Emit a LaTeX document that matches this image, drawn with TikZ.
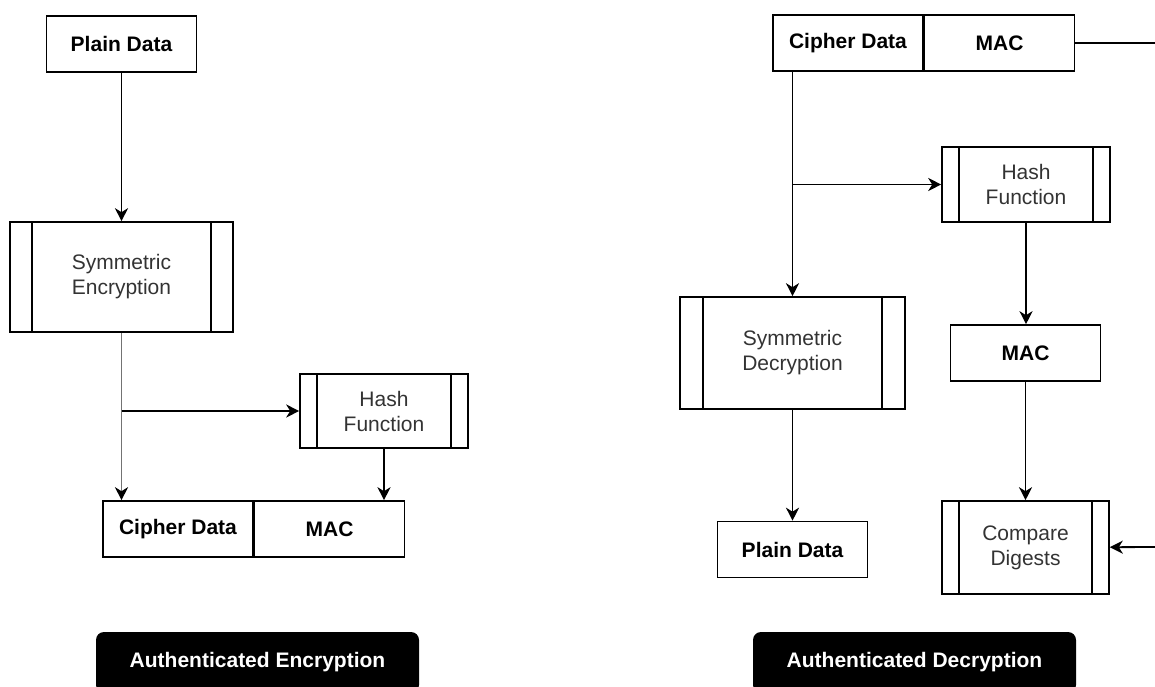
\documentclass[tikz,border=0pt]{standalone}
\usepackage{fontspec}
\setmainfont{Liberation Sans}
\usetikzlibrary{arrows.meta, positioning}

\begin{document}
\begin{tikzpicture}[
    x=1pt, y=-1pt,
    font=\fontsize{21}{25}\selectfont,
    box/.style={draw, line width=1.6pt, minimum height=56pt, minimum width=150pt, align=center, inner sep=0pt},
    data/.style={box, font=\fontsize{21}{25}\selectfont\bfseries},
    process/.style={box, text=black!80, path picture={
        \draw[line width=1.6pt]
            ([xshift=#1]path picture bounding box.north west) -- ([xshift=#1]path picture bounding box.south west)
            ([xshift=-#1]path picture bounding box.north east) -- ([xshift=-#1]path picture bounding box.south east);
    }},
    process/.default=20pt,
    arrow/.style={-{Stealth[length=13pt, width=13pt, inset=4pt]}, line width=1.8pt},
    grayarrow/.style={-{Stealth[length=13pt, width=13pt, inset=4pt, color=black]}, draw=black!55, line width=1.8pt},
    banner/.style={fill=black, rounded corners=8pt, text=white, font=\fontsize{21}{25}\selectfont\bfseries, minimum width=323pt, minimum height=61pt}
]
\useasboundingbox (0,0) rectangle (1155,687);

% encryption side
\node[data] (plainL) at (121.5,44) {Plain Data};
\node[process=22pt, minimum width=223pt, minimum height=110pt] (symEnc) at (121.5,277) {Symmetric\\Encryption};
\node[process=17pt, minimum width=168pt, minimum height=74pt] (hashL) at (384,411) {Hash\\Function};
\node[data] (cipherL) at (178,529) {Cipher Data};
\node[data, right=0pt of cipherL] (macL) {MAC};

\draw[arrow] (plainL) -- (symEnc);
\draw[grayarrow] (symEnc) -- (symEnc.south |- cipherL.north);
\draw[arrow] (symEnc.south |- hashL.west) -- (hashL);
\draw[arrow] (hashL) -- (hashL.south |- macL.north);

% decryption side
\node[data] (cipherR) at (848,43) {Cipher Data};
\node[data, right=0pt of cipherR] (macR) {MAC};
\node[process=17pt, minimum width=168pt, minimum height=75pt] (hashR) at (1026,184.5) {Hash\\Function};
\node[data] (macMid) at (1025.5,353) {MAC};
\node[process=23pt, minimum width=225pt, minimum height=112pt] (symDec) at (792.5,353) {Symmetric\\Decryption};
\node[data] (plainR) at (792.5,549.5) {Plain Data};
\node[process=17pt, minimum width=167pt, minimum height=93pt] (compare) at (1025.5,547.5) {Compare\\Digests};
\coordinate (macOut) at (1160,43);
\coordinate (digestIn) at (1160,547);

\draw[line width=1.8pt] (macR) -- (macOut);
\draw[arrow] (symDec.north |- cipherR.south) -- (symDec);
\draw[arrow] (symDec.north |- hashR.west) -- (hashR);
\draw[arrow] (hashR.south) -- (hashR.south |- macMid.north);
\draw[arrow] (macMid) -- (compare);
\draw[arrow] (symDec) -- (plainR);
\draw[arrow] (digestIn) -- (compare);

\node[banner] (encTitle) at (257.5,662.5) {Authenticated Encryption};
\node[banner] (decTitle) at (914.5,662.5) {Authenticated Decryption};
\end{tikzpicture}
\end{document}
